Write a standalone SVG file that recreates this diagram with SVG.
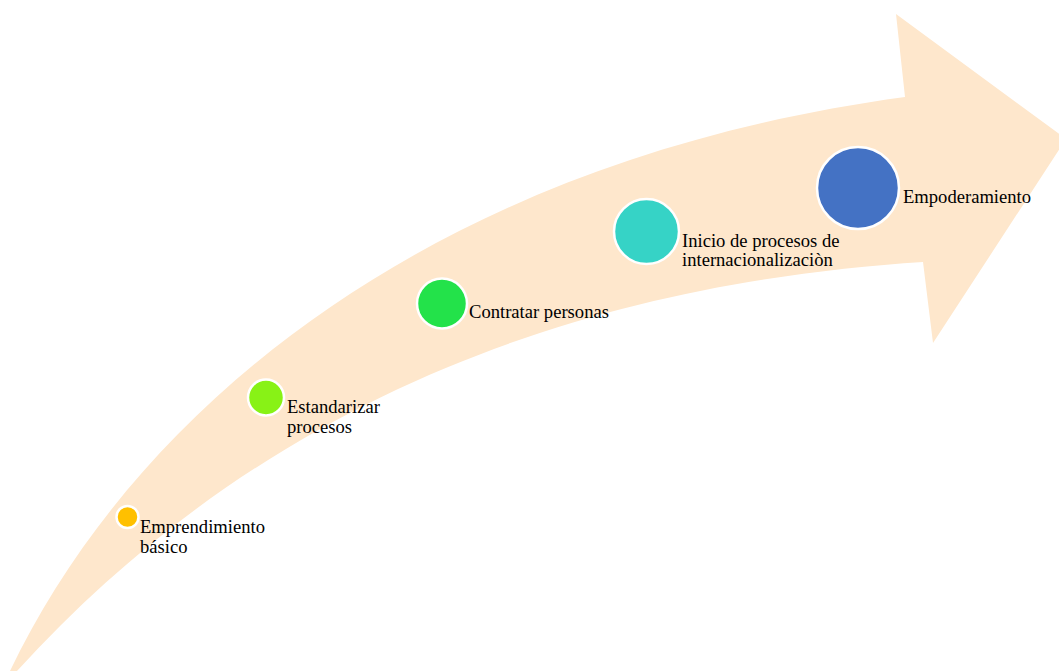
<svg xmlns="http://www.w3.org/2000/svg" width="1059" height="671" viewBox="0 0 1059 671">
<style>
.lbl{font-family:"Liberation Serif","Times New Roman",serif;font-size:18.6px;fill:#000}
.dot{stroke:#fff;stroke-width:2.5}
</style>
<rect width="1059" height="671" fill="#fff"/>
<g id="arrow">
<path d="M 10,671 C 140,400 440,160 905,97 L 896,14 L 1066,139 L 933,343 L 923,262 C 650,280 300,360 17,671 Z" fill="#FEE7CC"/>
</g>
<g id="connectors"></g>
<g id="n1"><circle class="dot" cx="127.5" cy="517" r="11" fill="#FFC000"/><text class="lbl" x="140" y="533">Emprendimiento</text><text class="lbl" x="140" y="553">básico</text></g>
<g id="n2"><circle class="dot" cx="266" cy="397.5" r="18" fill="#88F216"/><text class="lbl" x="287" y="413">Estandarizar</text><text class="lbl" x="287" y="433">procesos</text></g>
<g id="n3"><circle class="dot" cx="442" cy="303.5" r="25" fill="#23E24A"/><text class="lbl" x="469" y="318">Contratar personas</text></g>
<g id="n4"><circle class="dot" cx="646.5" cy="231.5" r="32.5" fill="#36D3C6"/><text class="lbl" x="682" y="247">Inicio de procesos de</text><text class="lbl" x="682" y="266">internacionalizaciòn</text></g>
<g id="n5"><circle class="dot" cx="858" cy="188" r="41" fill="#4472C4"/><text class="lbl" x="903" y="203">Empoderamiento</text></g>
</svg>
